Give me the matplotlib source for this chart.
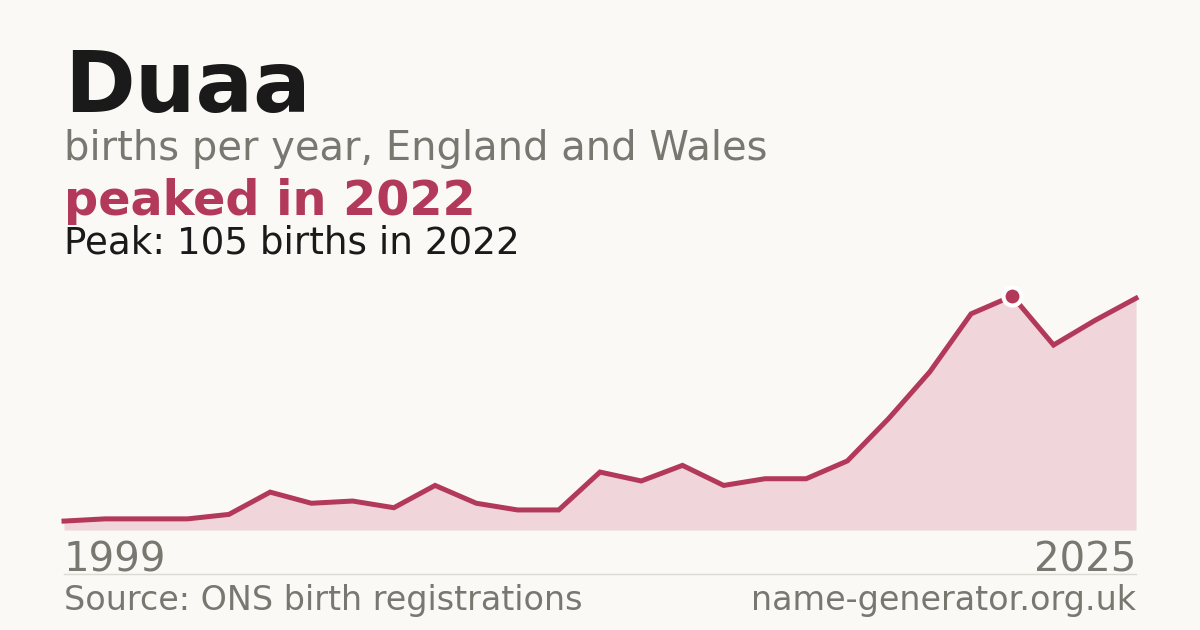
import matplotlib
matplotlib.use("Agg")
import matplotlib.pyplot as plt

# births per year for "Duaa"
years = list(range(1999, 2026))
births = [4, 5, 5, 5, 7, 17, 12, 13, 10, 20, 12, 9, 9, 26, 22, 29, 20, 23, 23, 31, 50, 71, 97, 105, 83, 94, 104]
peak_year = 2022
peak_value = 105

bg = "#faf9f5"
crimson = "#b3395a"
fill_col = "#f0d5db"
grey = "#7a7670"
dark = "#1a1a1a"

W, H = 1200, 630
fig = plt.figure(figsize=(W / 100, H / 100), dpi=100, facecolor=bg)

# plot area in pixels: x 64..1136, y 296..530 (from top)
ax = fig.add_axes([64 / W, (H - 530) / H, 1072 / W, 234 / H])
ax.set_facecolor(bg)
ax.fill_between(years, births, 0, color=fill_col, lw=0)
ax.plot(years, births, color=crimson, lw=3.6, solid_joinstyle="miter", clip_on=False)
ax.plot([peak_year], [peak_value], "o", ms=13, color=crimson, mec="white", mew=3,
        clip_on=False, zorder=5)
ax.set_xlim(years[0], years[-1])
ax.set_ylim(0, peak_value)
ax.axis("off")

def fy(px):
    return 1 - px / H

fig.text(64 / W, fy(112), "Duaa", fontsize=61.5, fontweight="bold", color=dark)
fig.text(64 / W, fy(160), "births per year, England and Wales", fontsize=28.8, color=grey)
fig.text(64 / W, fy(215), "peaked in 2022", fontsize=34.4, fontweight="bold", color=crimson)
fig.text(64 / W, fy(253), "Peak: 105 births in 2022", fontsize=26.8, color=dark)

fig.text(64 / W, fy(571), str(years[0]), fontsize=29, color=grey)
fig.text(1136 / W, fy(571), str(years[-1]), fontsize=29, color=grey, ha="right")

fig.add_artist(plt.Line2D([64 / W, 1136 / W], [fy(574), fy(574)], color="#dddad3", lw=1))

fig.text(64 / W, fy(610), "Source: ONS birth registrations", fontsize=24, color=grey)
fig.text(1136 / W, fy(610), "name-generator.org.uk", fontsize=24, color=grey, ha="right")

fig.savefig("out.png", dpi=100, facecolor=bg)
